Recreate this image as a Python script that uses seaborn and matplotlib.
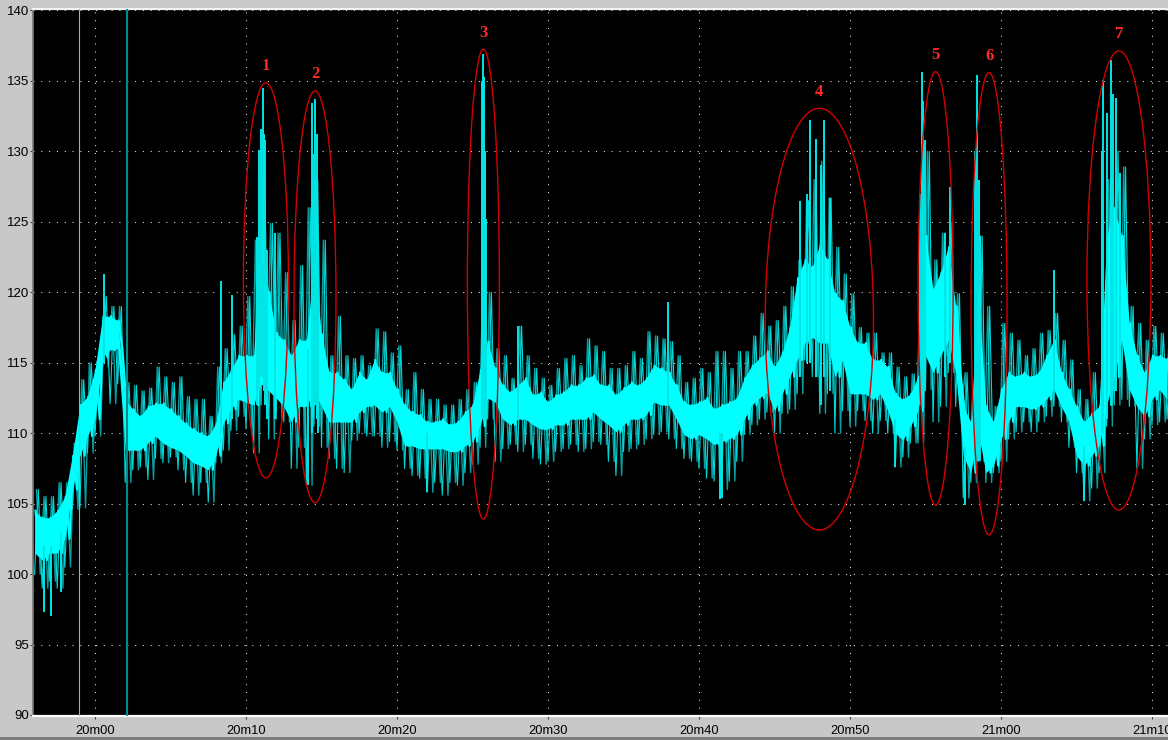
import numpy as np
import pandas as pd
import matplotlib
matplotlib.use("Agg")
import matplotlib.pyplot as plt
from matplotlib.patches import Ellipse, Rectangle
from matplotlib.ticker import FuncFormatter
import seaborn as sns

# ---------------------------------------------------------------- data
# sampling grid of the envelope (seconds, 0.5 s step)
t_start, t_step, n_samples = 1196.0, 0.5, 151

# dense part of the trace (lower / upper edge)
core_lo = [
    101.5, 101.0, 101.5, 101.5, 102.5, 106.0, 108.4, 109.8, 111.0, 115.4,
    115.9, 116.0, 108.8, 108.8, 108.8, 109.3, 109.8, 109.3, 109.0, 108.8,
    108.4, 107.9, 107.7, 107.4, 108.4, 110.7, 111.7, 112.4, 112.2, 112.0,
    113.5, 113.0, 112.5, 111.9, 110.8, 111.9, 111.9, 113.0, 111.9, 110.8,
    110.8, 110.8, 110.8, 111.5, 111.9, 112.0, 111.5, 111.9, 110.8, 109.1,
    109.1, 108.9, 108.9, 108.9, 108.9, 108.7, 108.7, 109.1, 109.4, 110.5,
    112.5, 112.2, 111.0, 110.6, 111.0, 111.0, 110.6, 110.3, 110.3, 110.6,
    110.6, 111.0, 111.0, 111.0, 111.5, 111.0, 110.6, 110.1, 110.6, 111.0,
    111.0, 111.3, 112.2, 112.0, 112.0, 111.0, 109.9, 109.6, 109.9, 109.6,
    109.2, 109.4, 109.6, 109.9, 111.0, 112.0, 112.5, 112.9, 111.6, 112.8,
    114.0, 115.2, 116.4, 116.8, 116.4, 116.4, 114.0, 115.2, 112.8, 112.8,
    112.8, 112.4, 112.8, 111.6, 110.0, 109.5, 110.5, 111.6, 115.5, 114.3,
    115.5, 116.6, 114.3, 108.4, 107.2, 110.0, 107.2, 107.7, 109.6, 110.8,
    111.9, 111.9, 111.7, 111.9, 112.4, 113.1, 111.9, 110.8, 108.4, 107.7,
    108.4, 109.1, 112.0, 114.0, 116.6, 113.1, 111.9, 111.2, 112.4, 113.1,
    112.4,
]
core_hi = [
    104.5, 104.0, 104.0, 104.5, 105.5, 108.4, 112.0, 112.6, 114.5, 118.3,
    118.3, 118.0, 112.4, 111.7, 111.2, 111.9, 112.1, 112.1, 111.7, 111.2,
    110.7, 110.3, 110.0, 109.8, 110.7, 113.6, 114.5, 115.5, 115.5, 115.5,
    124.0, 120.0, 117.1, 116.6, 115.5, 116.6, 116.6, 122.0, 117.0, 114.3,
    114.3, 113.8, 113.1, 114.3, 113.8, 115.2, 114.3, 114.3, 113.1, 112.0,
    111.5, 111.3, 110.8, 110.8, 111.0, 110.6, 110.8, 111.5, 112.0, 114.5,
    116.5, 114.6, 113.4, 112.9, 113.4, 113.9, 112.7, 112.9, 112.2, 112.7,
    112.9, 113.4, 113.4, 113.9, 114.1, 113.4, 113.4, 112.7, 113.2, 113.6,
    113.4, 113.9, 114.8, 114.6, 114.3, 113.4, 112.2, 112.0, 112.2, 112.5,
    111.7, 112.0, 112.2, 112.5, 113.9, 114.8, 115.3, 115.8, 114.7, 115.7,
    117.5, 121.0, 122.3, 121.8, 123.4, 122.3, 119.9, 119.4, 117.5, 116.4,
    116.4, 115.2, 115.2, 114.7, 112.8, 112.4, 112.8, 114.0, 124.0, 120.2,
    121.4, 123.2, 119.0, 111.9, 110.8, 120.0, 111.9, 110.8, 113.1, 114.3,
    114.0, 114.3, 114.0, 114.3, 115.5, 116.6, 114.3, 113.1, 111.9, 110.8,
    111.4, 111.9, 124.0, 126.0, 124.0, 117.8, 115.5, 114.3, 115.5, 115.5,
    115.3,
]

# reach of the fast fluctuations (lower / upper)
whisk_lo = [
    100.0, 99.0, 99.5, 99.0, 100.5, 104.6, 104.7, 108.6, 109.8, 114.7,
    112.1, 113.5, 106.5, 107.4, 107.6, 106.7, 108.2, 107.9, 108.3, 107.4,
    106.5, 105.6, 106.5, 105.1, 107.9, 108.8, 110.2, 111.2, 110.3, 108.6,
    112.0, 109.6, 111.0, 110.8, 107.5, 109.0, 106.3, 110.5, 109.0, 108.2,
    107.5, 107.2, 109.5, 110.0, 109.8, 109.8, 109.0, 109.4, 108.8, 107.5,
    107.0, 106.8, 105.8, 106.5, 105.6, 106.5, 106.3, 107.2, 107.8, 109.0,
    111.0, 108.0, 108.9, 109.2, 108.7, 109.2, 108.2, 107.8, 108.0, 108.7,
    108.9, 109.2, 108.7, 108.9, 109.4, 109.2, 108.0, 107.0, 108.7, 108.9,
    109.2, 109.6, 109.9, 110.1, 109.6, 108.9, 108.2, 108.0, 107.5, 106.8,
    106.6, 106.0, 106.6, 108.0, 109.9, 110.6, 111.0, 111.5, 110.0, 111.4,
    111.7, 112.8, 115.2, 114.0, 111.4, 112.8, 110.0, 111.6, 110.5, 111.6,
    110.9, 110.0, 110.9, 110.0, 107.6, 108.3, 109.3, 109.3, 113.1, 110.8,
    111.9, 114.3, 111.9, 105.4, 106.5, 108.0, 106.5, 107.2, 108.0, 109.6,
    110.1, 110.8, 110.1, 110.8, 111.2, 111.9, 110.8, 109.0, 107.2, 105.2,
    106.1, 107.2, 110.5, 112.0, 112.4, 111.9, 107.5, 109.6, 110.6, 110.8,
    111.0,
]
whisk_hi = [
    106.0, 105.5, 105.5, 106.5, 106.5, 109.3, 113.8, 115.0, 115.1, 119.7,
    119.0, 119.0, 113.6, 113.4, 113.0, 113.2, 114.7, 114.0, 113.6, 114.0,
    112.6, 112.4, 112.4, 111.2, 114.7, 116.0, 117.0, 117.6, 119.7, 123.7,
    128.0, 124.9, 124.2, 121.4, 118.0, 121.9, 126.0, 128.0, 123.7, 115.5,
    118.3, 115.5, 115.3, 115.5, 114.8, 117.4, 117.2, 115.7, 116.2, 113.1,
    114.3, 113.1, 112.4, 112.4, 112.0, 112.0, 112.4, 113.1, 113.6, 118.0,
    120.0, 116.0, 115.5, 113.9, 117.6, 115.5, 114.6, 113.9, 113.4, 114.6,
    115.3, 115.5, 114.8, 116.7, 116.2, 115.8, 114.6, 114.6, 114.8, 115.8,
    115.3, 117.2, 116.9, 116.7, 116.5, 115.5, 113.6, 113.9, 114.6, 114.3,
    115.8, 115.8, 114.6, 115.8, 115.8, 116.9, 118.5, 117.6, 118.0, 119.0,
    120.4, 122.3, 126.5, 128.0, 129.3, 126.7, 123.2, 121.3, 119.9, 117.5,
    117.1, 117.1, 115.7, 115.7, 114.7, 114.0, 114.2, 119.9, 130.0, 122.3,
    124.2, 125.0, 119.9, 114.3, 113.1, 124.0, 119.0, 111.9, 117.8, 117.1,
    116.6, 115.5, 116.0, 117.1, 117.3, 118.5, 116.6, 115.2, 113.1, 112.4,
    114.3, 113.1, 128.0, 130.0, 128.9, 119.0, 117.8, 116.6, 117.6, 117.1,
    116.6,
]

# individual sharp excursions: time, foot, tip
spike_t = [
    1196.60, 1197.07, 1197.73, 1200.60, 1208.32, 1209.05,
    1210.75, 1210.88, 1210.99, 1211.10, 1211.17, 1211.28, 1211.37, 1211.90,
    1214.13, 1214.35, 1214.46, 1214.57, 1214.68, 1214.79,
    1222.00, 1225.60, 1225.65, 1225.72, 1225.78, 1225.85, 1225.92, 1228.00,
    1237.95, 1241.39, 1241.50,
    1246.69, 1247.13, 1247.35, 1247.75, 1248.05, 1248.28, 1248.68,
    1253.00, 1254.64, 1254.75, 1254.85, 1254.97, 1256.29, 1256.62,
    1257.62, 1258.28, 1258.39, 1258.52, 1258.61, 1263.50, 1265.50,
    1266.67, 1266.78, 1267.00, 1267.26, 1267.44, 1267.62, 1267.88,
]
spike_foot = [
    97.3, 97.0, 98.7, 115.0, 110.0, 111.0,
    112.0, 113.0, 114.0, 114.0, 113.0, 112.0, 111.0, 111.0,
    106.3, 110.0, 111.0, 112.0, 111.0, 110.0,
    105.8, 111.0, 111.0, 111.0, 111.0, 111.0, 111.0, 111.0,
    112.0, 105.3, 105.4,
    114.0, 115.0, 115.0, 114.0, 112.0, 114.0, 113.0,
    107.6, 112.0, 112.0, 113.0, 113.0, 114.0, 115.0,
    104.9, 108.0, 108.0, 108.0, 108.0, 113.0, 105.2,
    110.0, 110.0, 111.0, 112.0, 113.0, 113.0, 114.0,
]
spike_tip = [
    102.0, 102.0, 103.0, 121.3, 120.8, 119.8,
    123.9, 130.1, 131.6, 134.5, 131.2, 130.8, 123.0, 124.2,
    116.0, 133.4, 129.8, 133.7, 131.2, 123.7,
    110.0, 128.0, 135.0, 136.9, 135.3, 130.0, 125.2, 117.6,
    119.3, 110.0, 110.0,
    126.5, 127.0, 132.2, 130.9, 129.0, 132.2, 126.7,
    111.0, 127.0, 135.6, 133.6, 130.8, 124.2, 127.5,
    109.0, 130.0, 135.4, 128.0, 124.0, 121.6, 109.0,
    130.0, 135.1, 132.7, 136.5, 134.1, 133.8, 128.5,
]

# marked events: centre time, width (s), lower and upper value
event_t = [1211.32, 1214.57, 1225.72, 1247.97, 1255.67, 1259.21, 1267.81]
event_w = [2.98, 2.78, 2.12, 7.17, 2.32, 2.38, 4.24]
event_lo = [106.83, 105.07, 103.91, 103.13, 104.90, 102.78, 104.55]
event_hi = [134.87, 134.29, 137.25, 133.06, 135.66, 135.59, 137.13]
event_labels = ["1", "2", "3", "4", "5", "6", "7"]

# cursor positions (s)
cursor_t = [1198.94, 1202.10]

y_ticks = [90, 95, 100, 105, 110, 115, 120, 125, 130, 135, 140]
x_ticks = [1200, 1210, 1220, 1230, 1240, 1250, 1260, 1270]

# ---------------------------------------------------------------- figure
W, H = 1176, 740
fig = plt.figure(figsize=(W / 100, H / 100), dpi=100, facecolor="#c8c8c8")
plt.rcParams["font.family"] = ["Liberation Sans", "DejaVu Sans"]

ax = fig.add_axes([32.5 / W, 1 - 716 / H, (1168 - 32.5) / W, (716 - 9) / H])
ax.set_facecolor("black")

t = t_start + t_step * np.arange(n_samples)


def zigzag(times, first, second, shift):
    """Alternate between two value series inside each sample step."""
    n = len(times)
    zt = np.empty(2 * n)
    zv = np.empty(2 * n)
    zt[0::2] = times + shift
    zt[1::2] = times + shift + t_step / 2
    zv[0::2] = first
    zv[1::2] = second
    return pd.DataFrame({"t": zt, "v": zv})


# fast fluctuations: two interleaved stroke sets
sns.lineplot(data=zigzag(t, whisk_hi, whisk_lo, t_step / 4), x="t", y="v",
             sort=False, estimator=None, color="#0a9c9c", lw=1.0, ax=ax,
             zorder=2)
sns.lineplot(data=zigzag(t, whisk_lo, whisk_hi, 0.0), x="t", y="v",
             sort=False, estimator=None, color="#00d8d8", lw=0.8, ax=ax,
             zorder=2)

# dense core of the trace
ax.fill_between(t, core_lo, core_hi, color="#00ffff", lw=0, zorder=3)
sns.lineplot(data=zigzag(t, core_hi, core_lo, t_step / 8), x="t", y="v",
             sort=False, estimator=None, color="#00ffff", lw=1.6, ax=ax,
             zorder=3)

# sharp excursions
ax.vlines(spike_t, spike_foot, spike_tip, colors="#00e6e6", lw=1.4, zorder=4)

# cursors
ax.axvline(cursor_t[0], color="#3cd8d8", lw=0.8, zorder=6)
ax.axvline(cursor_t[1], color="#008c8c", lw=1.5, zorder=6)

# event markers
for cx, w, lo, hi, lab in zip(event_t, event_w, event_lo, event_hi, event_labels):
    ax.add_patch(Ellipse((cx, (lo + hi) / 2), width=w, height=hi - lo,
                         fill=False, edgecolor="#d20000", lw=1.0, zorder=7))
    ax.annotate(lab, xy=(cx, hi), xytext=(0, 12), textcoords="offset points",
                ha="center", va="center", color="#ff2a2a", fontsize=12,
                fontweight="bold", family=["Liberation Serif", "DejaVu Serif"],
                zorder=8)

# axes, ticks and grid
ax.set_xlim(1195.861, 1271.06)
ax.set_ylim(89.929, 140.106)
ax.set_xticks(x_ticks)
ax.set_yticks(y_ticks)
ax.xaxis.set_major_formatter(FuncFormatter(lambda v, p: f"{int(v // 60)}m{int(v % 60):02d}"))
ax.yaxis.set_major_formatter(FuncFormatter(lambda v, p: f"{int(v)}"))
ax.set_xlabel("")
ax.set_ylabel("")
ax.tick_params(axis="y", length=2.2, width=0.8, color="#404040", pad=0.5,
               labelsize=9.5, labelcolor="black")
ax.tick_params(axis="x", length=2.5, width=0.8, color="#404040", pad=4,
               labelsize=9.3, labelcolor="black")
ax.grid(True, color="#e6e6e6", lw=0.75, linestyle=(0, (1, 6.5)))
ax.set_axisbelow(True)

ax.spines["left"].set_color("#7a7a7a")
ax.spines["left"].set_linewidth(1.2)
ax.spines["bottom"].set_color("white")
ax.spines["bottom"].set_linewidth(1.6)
ax.spines["top"].set_color("#f2f2f2")
ax.spines["top"].set_linewidth(1.6)
ax.spines["right"].set_visible(False)

# window frame pieces
fig.patches.append(Rectangle((1168 / W, 0), 8 / W, 1, transform=fig.transFigure,
                             facecolor="white", edgecolor="none", zorder=20))
fig.patches.append(Rectangle((0, 0), 1168 / W, 3 / H, transform=fig.transFigure,
                             facecolor="#7c7c7c", edgecolor="none", zorder=20))

fig.savefig("out.png", dpi=100, facecolor=fig.get_facecolor())
